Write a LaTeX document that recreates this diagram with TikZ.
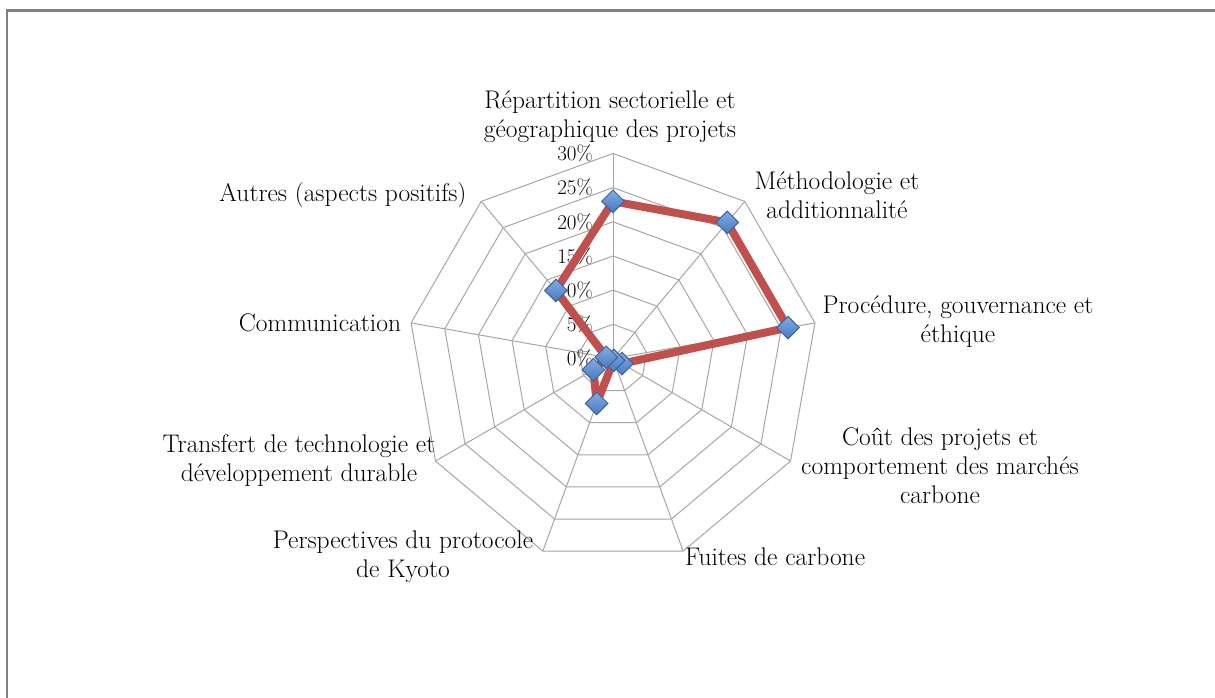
\documentclass[tikz,border=0pt]{standalone}
\usepackage{fontspec}
\usetikzlibrary{shapes.geometric}
\definecolor{gridgray}{RGB}{166,166,166}
\definecolor{framegray}{RGB}{128,128,128}
\definecolor{seriesred}{RGB}{192,80,77}
\definecolor{markerblue}{RGB}{72,122,190}
\definecolor{markerlight}{RGB}{130,172,228}
\definecolor{markeredge}{RGB}{60,100,160}

\begin{document}
\begin{tikzpicture}[x=1pt,y=1pt,
  axislabel/.style={align=center,font=\fontsize{25.5}{29}\selectfont,inner sep=0pt},
  ticklabel/.style={anchor=east,font=\fontsize{21}{21}\selectfont,inner sep=0pt},
  datamark/.style={diamond,draw=markeredge,top color=markerlight,bottom color=markerblue,
    line width=1pt,minimum size=23pt,inner sep=0pt}]
\useasboundingbox (-613,-339.5) rectangle (602,358.5);
% frame
\draw[framegray,line width=2.5pt] (602,348) -- (-606,348) -- (-606,-339.5);
% grid
\coordinate (o) at (0,0);
\foreach \r in {1,...,6}
  \draw[gridgray,line width=1pt] (90:{\r*34.17}) \foreach \k in {1,...,8} { -- (90-40*\k:{\r*34.17}) } -- cycle;
\foreach \k in {0,...,8} {
  \coordinate (ax\k) at (90-40*\k:205);
  \draw[gridgray,line width=1pt] (o) -- (ax\k);
}
\foreach \i in {0,...,6}
  \node[ticklabel] (tick\i) at (-20,{\i*34.17}) {\number\numexpr\i*5\relax\%};
% series
\foreach \v [count=\k from 0] in {23,26,26,1.5,0.3,7,3.3,1,13}
  \coordinate (p\k) at (90-40*\k:{\v*205/30});
\draw[seriesred,line width=8pt,line join=round] (p0) \foreach \k in {1,...,8} { -- (p\k) } -- cycle;
\foreach \k in {0,...,8}
  \node[datamark] (m\k) at (p\k) {};
% axis labels
\node[axislabel] (repart) at (-3,241.5) {Répartition sectorielle et\\géographique des projets};
\node[axislabel] (methodo) at (224,163.5) {Méthodologie et\\additionnalité};
\node[axislabel] (proced) at (345,36.5) {Procédure, gouvernance et\\éthique};
\node[axislabel] (cout) at (327,-107.5) {Coût des projets et\\comportement des marchés\\carbone};
\node[axislabel,anchor=west] (fuites) at (72,-198.5) {Fuites de carbone};
\node[axislabel] (perspect) at (-210,-198.5) {Perspectives du protocole\\de Kyoto};
\node[axislabel] (transfert) at (-314,-102.5) {Transfert de technologie et\\développement durable};
\node[axislabel] (commun) at (-293,35.5) {Communication};
\node[axislabel] (autres) at (-270,163.5) {Autres (aspects positifs)};
\end{tikzpicture}
\end{document}
